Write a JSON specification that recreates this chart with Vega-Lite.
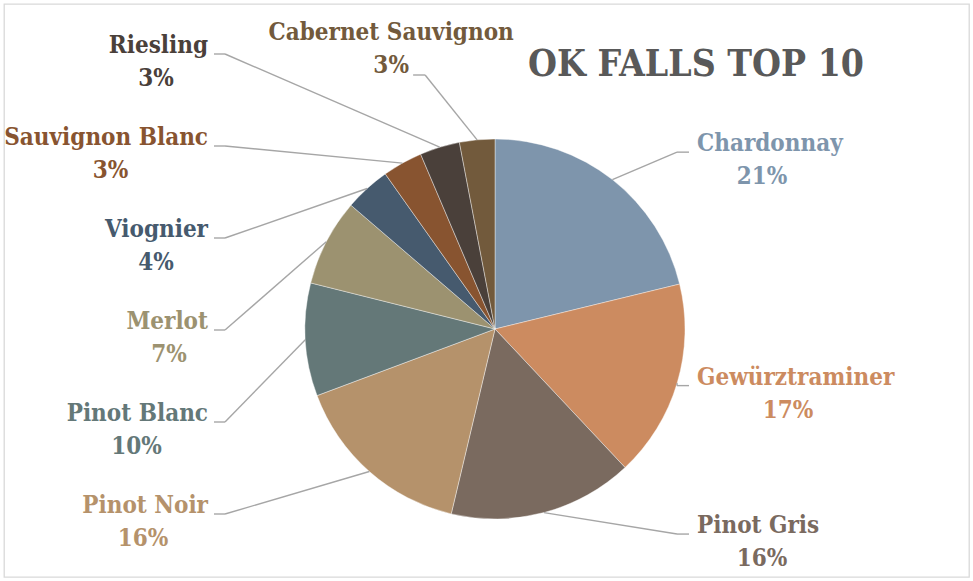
{
  "$schema": "https://vega.github.io/schema/vega-lite/v6.json",
  "width": 965,
  "height": 573,
  "padding": 4,
  "autosize": {"type": "none"},
  "background": "white",
  "config": {"view": {"stroke": "#D9D9D9", "strokeWidth": 1.3}},
  "title": {
    "text": "OK FALLS TOP 10",
    "orient": "top",
    "anchor": "start",
    "frame": "group",
    "baseline": "alphabetic",
    "offset": -73,
    "dx": 524,
    "dy": 36,
    "font": "DejaVu Serif Condensed",
    "fontSize": 37,
    "fontWeight": "bold",
    "color": "#595959"
  },
  "data": {
    "values": [
      {"variety": "Chardonnay", "share": 0.212},
      {"variety": "Gewürztraminer", "share": 0.168},
      {"variety": "Pinot Gris", "share": 0.157},
      {"variety": "Pinot Noir", "share": 0.156},
      {"variety": "Pinot Blanc", "share": 0.096},
      {"variety": "Merlot", "share": 0.074},
      {"variety": "Viognier", "share": 0.039},
      {"variety": "Sauvignon Blanc", "share": 0.034},
      {"variety": "Riesling", "share": 0.034},
      {"variety": "Cabernet Sauvignon", "share": 0.030}
    ]
  },
  "transform": [
    {"window": [{"op": "sum", "field": "share", "as": "cum1"}], "frame": [null, 0]},
    {"calculate": "datum.cum1 - datum.share", "as": "cum0"},
    {"calculate": "2*PI*(datum.cum0 + datum.share/2)", "as": "am"},
    {"calculate": "190*sin(datum.am)", "as": "ex"},
    {"calculate": "-190*cos(datum.am)", "as": "ey"},
    {"calculate": "datum.am > 6.1 ? 'top' : (datum.am > PI ? 'left' : 'right')", "as": "side"},
    {"window": [{"op": "row_number", "as": "rk"}], "groupby": ["side"], "sort": [{"field": "am", "order": "descending"}]},
    {"calculate": "datum.side == 'left' ? -283 + 92*(datum.rk-1) : (datum.side == 'right' ? 1.147*datum.ey - 13.5 : -296)", "as": "ny"},
    {"calculate": "datum.side == 'left' ? -287 : (datum.side == 'right' ? 202 : datum.ex - 86)", "as": "nx"},
    {"calculate": "length(datum.variety) * 13", "as": "w"},
    {"calculate": "datum.side == 'left' ? datum.nx - datum.w/2 : (datum.side == 'right' ? datum.nx + datum.w/2 : datum.nx)", "as": "px"},
    {"calculate": "datum.ny + 33", "as": "py"},
    {"calculate": "datum.side == 'left' ? datum.nx + 6 : (datum.side == 'right' ? datum.nx - 8 : datum.px + 22)", "as": "hx0"},
    {"calculate": "datum.side == 'left' ? datum.nx + 17 : (datum.side == 'right' ? datum.nx - 20 : datum.px + 34)", "as": "hx1"},
    {"calculate": "datum.side == 'top' ? datum.py + 9 : datum.ny + 8", "as": "hy"}
  ],
  "layer": [
    {
      "mark": {"type": "arc", "radius": 190, "stroke": "#ffffff", "strokeWidth": 0.8, "strokeOpacity": 0.5},
      "encoding": {
        "x": {"datum": 0, "type": "quantitative", "scale": {"domain": [-491, 474], "nice": false, "zero": false}, "axis": null},
        "y": {"datum": 0, "type": "quantitative", "scale": {"domain": [-325, 248], "nice": false, "zero": false, "reverse": true}, "axis": null},
        "theta": {"field": "cum0", "type": "quantitative", "scale": {"domain": [0, 1]}, "stack": null},
        "theta2": {"field": "cum1"},
        "color": {
          "field": "variety", "type": "nominal", "legend": null,
          "scale": {
            "domain": ["Chardonnay", "Gewürztraminer", "Pinot Gris", "Pinot Noir", "Pinot Blanc", "Merlot", "Viognier", "Sauvignon Blanc", "Riesling", "Cabernet Sauvignon"],
            "range": ["#7E95AC", "#CC8B60", "#7A6A5F", "#B5926B", "#647878", "#9C9270", "#465A6E", "#885430", "#4A403A", "#725A3C"]
          }
        }
      }
    },
    {
      "mark": {"type": "rule", "color": "#A6A6A6", "strokeWidth": 1.4},
      "encoding": {
        "x": {"field": "hx0", "type": "quantitative", "scale": {"domain": [-491, 474], "nice": false, "zero": false}, "axis": null},
        "x2": {"field": "hx1"},
        "y": {"field": "hy", "type": "quantitative", "scale": {"domain": [-325, 248], "nice": false, "zero": false, "reverse": true}, "axis": null},
        "y2": {"field": "hy"}
      }
    },
    {
      "mark": {"type": "rule", "color": "#A6A6A6", "strokeWidth": 1.4},
      "encoding": {
        "x": {"field": "hx1", "type": "quantitative", "scale": {"domain": [-491, 474], "nice": false, "zero": false}, "axis": null},
        "x2": {"field": "ex"},
        "y": {"field": "hy", "type": "quantitative", "scale": {"domain": [-325, 248], "nice": false, "zero": false, "reverse": true}, "axis": null},
        "y2": {"field": "ey"}
      }
    },
    {
      "transform": [{"filter": "datum.side == 'left'"}],
      "mark": {"type": "text", "align": "right", "baseline": "middle", "font": "DejaVu Serif Condensed", "fontWeight": "bold", "fontSize": 24},
      "encoding": {
        "x": {"field": "nx", "type": "quantitative", "scale": {"domain": [-491, 474], "nice": false, "zero": false}, "axis": null},
        "y": {"field": "ny", "type": "quantitative", "scale": {"domain": [-325, 248], "nice": false, "zero": false, "reverse": true}, "axis": null},
        "text": {"field": "variety"},
        "color": {"field": "variety", "type": "nominal", "legend": null}
      }
    },
    {
      "transform": [{"filter": "datum.side == 'right'"}],
      "mark": {"type": "text", "align": "left", "baseline": "middle", "font": "DejaVu Serif Condensed", "fontWeight": "bold", "fontSize": 24},
      "encoding": {
        "x": {"field": "nx", "type": "quantitative", "scale": {"domain": [-491, 474], "nice": false, "zero": false}, "axis": null},
        "y": {"field": "ny", "type": "quantitative", "scale": {"domain": [-325, 248], "nice": false, "zero": false, "reverse": true}, "axis": null},
        "text": {"field": "variety"},
        "color": {"field": "variety", "type": "nominal", "legend": null}
      }
    },
    {
      "transform": [{"filter": "datum.side == 'top'"}],
      "mark": {"type": "text", "align": "center", "baseline": "middle", "font": "DejaVu Serif Condensed", "fontWeight": "bold", "fontSize": 24},
      "encoding": {
        "x": {"field": "nx", "type": "quantitative", "scale": {"domain": [-491, 474], "nice": false, "zero": false}, "axis": null},
        "y": {"field": "ny", "type": "quantitative", "scale": {"domain": [-325, 248], "nice": false, "zero": false, "reverse": true}, "axis": null},
        "text": {"field": "variety"},
        "color": {"field": "variety", "type": "nominal", "legend": null}
      }
    },
    {
      "mark": {"type": "text", "align": "center", "baseline": "middle", "font": "DejaVu Serif Condensed", "fontWeight": "bold", "fontSize": 24},
      "encoding": {
        "x": {"field": "px", "type": "quantitative", "scale": {"domain": [-491, 474], "nice": false, "zero": false}, "axis": null},
        "y": {"field": "py", "type": "quantitative", "scale": {"domain": [-325, 248], "nice": false, "zero": false, "reverse": true}, "axis": null},
        "text": {"field": "share", "format": ".0%"},
        "color": {"field": "variety", "type": "nominal", "legend": null}
      }
    }
  ]
}
